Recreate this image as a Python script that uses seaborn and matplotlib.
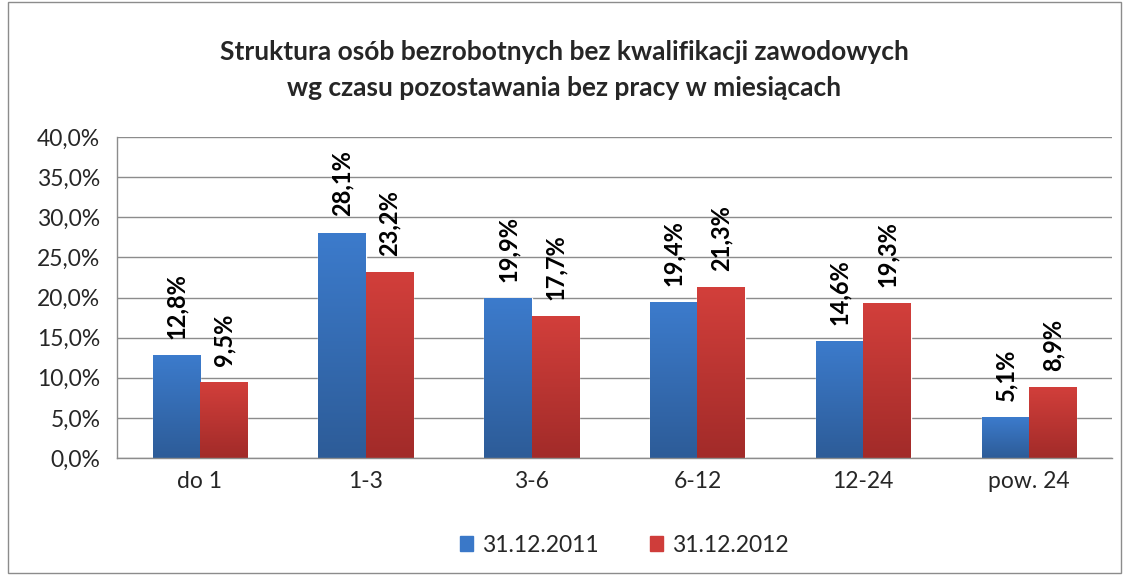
"""
Bar chart: Struktura osób bezrobotnych bez kwalifikacji zawodowych
wg czasu pozostawania bez pracy w miesiącach
"""

import numpy as np
import pandas as pd
import matplotlib.pyplot as plt
import seaborn as sns
from matplotlib.colors import LinearSegmentedColormap
from matplotlib.patches import Rectangle

CATEGORIES = ["do 1", "1-3", "3-6", "6-12", "12-24", "pow. 24"]
SERIES = ["31.12.2011", "31.12.2012"]
VALUES_2011 = [12.8, 28.1, 19.9, 19.4, 14.6, 5.1]
VALUES_2012 = [9.5, 23.2, 17.7, 21.3, 19.3, 8.9]
Y_TICKS = [0, 5, 10, 15, 20, 25, 30, 35, 40]

COLORS = {"31.12.2011": "#3A78C8", "31.12.2012": "#CF3D3A"}
GRADIENTS = {"31.12.2011": ("#3C7BCC", "#2D5C98"),
             "31.12.2012": ("#D23F3B", "#A22B29")}

df = pd.DataFrame({
    "kategoria": CATEGORIES * 2,
    "seria": [SERIES[0]] * len(CATEGORIES) + [SERIES[1]] * len(CATEGORIES),
    "wartosc": VALUES_2011 + VALUES_2012,
})

sns.set_style("white")
plt.rcParams["font.family"] = ["Lato", "DejaVu Sans"]

fig = plt.figure(figsize=(11.29, 5.8), dpi=100)
ax = fig.add_axes([0.1036, 0.2103, 0.8814, 0.5535])

sns.barplot(data=df, x="kategoria", y="wartosc", hue="seria", order=CATEGORIES,
            hue_order=SERIES, palette=COLORS, width=0.57, saturation=1,
            ax=ax, legend=False)

# gradient fill + value labels
for container, name in zip(ax.containers, SERIES):
    cmap = LinearSegmentedColormap.from_list(name, [GRADIENTS[name][1], GRADIENTS[name][0]])
    for bar, val in zip(container, df[df["seria"] == name]["wartosc"]):
        x0, w, h = bar.get_x(), bar.get_width(), bar.get_height()
        img = ax.imshow(np.linspace(0, 1, 100).reshape(-1, 1), cmap=cmap, origin="lower",
                        extent=[x0, x0 + w, 0, h], aspect="auto", zorder=2)
        img.set_clip_path(bar)
        bar.set_zorder(2)
        ax.text(x0 + w / 2, h + 2.0, f"{val:.1f}%".replace(".", ","), rotation=90,
                ha="center", va="bottom", fontsize=17, fontweight="bold", color="black")

ax.set_xlim(-0.5, 5.5)
ax.set_ylim(0, 40)
ax.set_yticks(Y_TICKS)
ax.set_yticklabels([f"{t:.1f}%".replace(".", ",") for t in Y_TICKS], fontsize=16.5)
ax.set_xticks(range(len(CATEGORIES)))
ax.set_xticklabels(CATEGORIES, fontsize=16.5)
ax.set_xticks(np.arange(-0.5, 6, 1), minor=True)
ax.tick_params(axis="x", which="major", length=0, pad=9)
ax.tick_params(axis="x", which="minor", length=6, color="#8C8C8C", direction="out")
ax.tick_params(axis="y", length=6, color="#8C8C8C", direction="out", pad=6)
ax.set_xlabel("")
ax.set_ylabel("")
ax.grid(axis="y", color="#8C8C8C", linewidth=1)
ax.set_axisbelow(True)
for side in ["top", "right"]:
    ax.spines[side].set_visible(False)
for side in ["left", "bottom"]:
    ax.spines[side].set_color("#8C8C8C")
    ax.spines[side].set_linewidth(1)

fig.text(0.5, 0.91, "Struktura osób bezrobotnych bez kwalifikacji zawodowych",
         ha="center", va="center", fontsize=19, fontweight="bold")
fig.text(0.5, 0.848, "wg czasu pozostawania bez pracy w miesiącach",
         ha="center", va="center", fontsize=19, fontweight="bold")

handles = [Rectangle((0, 0), 1, 1, color=COLORS[s]) for s in SERIES]
fig.legend(handles, SERIES, loc="center", bbox_to_anchor=(0.553, 0.06), ncol=2,
           frameon=False, fontsize=16.5, handlelength=0.6, handleheight=0.6,
           handletextpad=0.4, columnspacing=2.2)

# outer chart frame
fig.patches.append(Rectangle((0.007, 0.012), 0.986, 0.985, transform=fig.transFigure,
                             fill=False, edgecolor="#8C8C8C", linewidth=1))

fig.savefig("out.png", dpi=100)
